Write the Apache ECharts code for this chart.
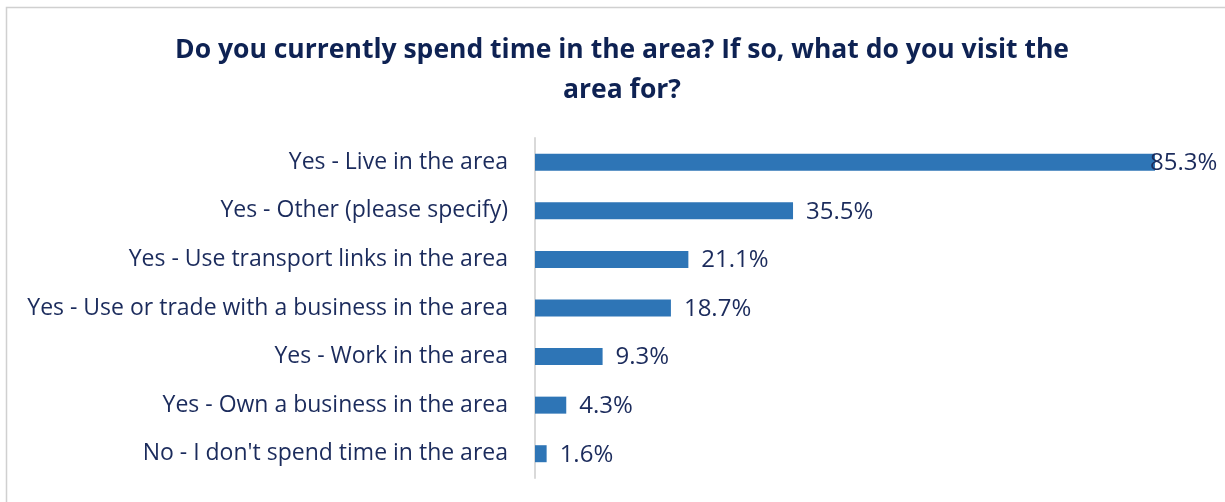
<!DOCTYPE html>
<html>
<head>
<meta charset="utf-8">
<script src="https://cdn.jsdelivr.net/npm/echarts@6/dist/echarts.min.js"></script>
<style>
  html, body { margin: 0; padding: 0; background: #fff; }
  #main { width: 1225px; height: 502px; }
</style>
</head>
<body>
<div id="main"></div>
<script>
// categories, top to bottom
const categories = [
  'Yes - Live in the area',
  'Yes - Other (please specify)',
  'Yes - Use transport links in the area',
  'Yes - Use or trade with a business in the area',
  'Yes - Work in the area',
  'Yes - Own a business in the area',
  "No - I don't spend time in the area"
]
const values = [85.3, 35.5, 21.1, 18.7, 9.3, 4.3, 1.6]

const navy = '#0e2253'
const textColor = '#1b2b5c'
const barColor = '#2e75b6'

const chart = echarts.init(document.getElementById('main'))

chart.setOption({
  animation: false,
  title: {
    text: 'Do you currently spend time in the area? If so, what do you visit the\narea for?',
    left: 617,
    top: 25,
    textAlign: 'center',
    textStyle: {
      fontFamily: 'Open Sans',
      fontWeight: 'bold',
      fontSize: 26.5,
      lineHeight: 40,
      color: navy
    }
  },
  graphic: [{
    type: 'rect',
    shape: { x: 6.5, y: 7.5, width: 1230, height: 500 },
    style: { fill: 'none', stroke: '#d0d0d0', lineWidth: 1.5 },
    silent: true
  }],
  grid: {
    left: 535,
    right: 70,
    top: 138,
    bottom: 24
  },
  xAxis: {
    type: 'value',
    min: 0,
    max: 85.3,
    show: false
  },
  yAxis: {
    type: 'category',
    inverse: true,
    data: categories,
    axisLine: { show: true, lineStyle: { color: '#d9d9d9', width: 2 } },
    axisTick: { show: false },
    axisLabel: {
      margin: 27,
      fontFamily: 'Open Sans',
      fontSize: 23,
      color: textColor
    }
  },
  series: [{
    type: 'bar',
    data: values.map((v, i) => ({
      value: v,
      label: i === 0 ? { distance: -5 } : {}
    })),
    barWidth: 17,
    itemStyle: { color: barColor },
    label: {
      show: true,
      position: 'right',
      distance: 13,
      offset: [0, 1],
      formatter: p => p.value.toFixed(1) + '%',
      fontFamily: 'Open Sans',
      fontSize: 24,
      color: textColor
    }
  }]
})
</script>
</body>
</html>
